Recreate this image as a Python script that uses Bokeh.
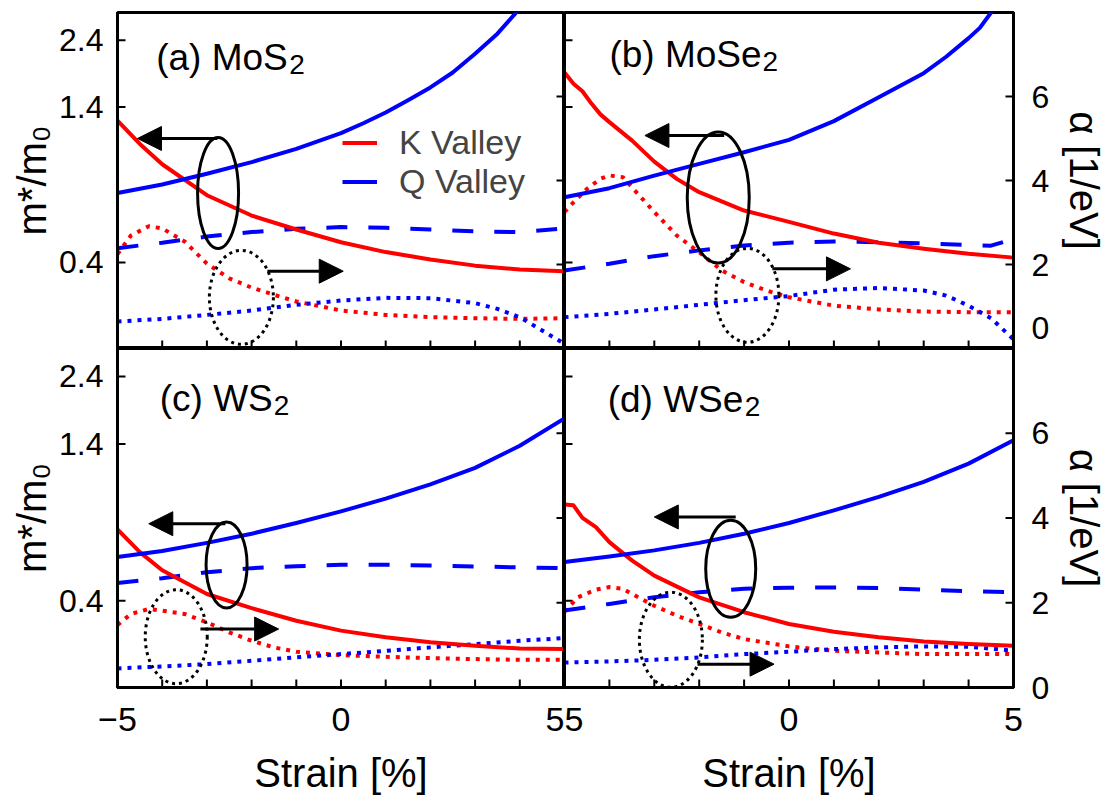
from math import pi
from bokeh.plotting import figure
from bokeh.models import (Range1d, LinearAxis, LinearScale, FixedTicker, PrintfTickFormatter,
                          CustomJSTickFormatter, Arrow, NormalHead, Label, Legend, LegendItem)
from bokeh.layouts import column, row
from bokeh.embed import file_html
from bokeh.resources import INLINE

FONT = "Liberation Sans"
RED = "#ff0000"
BLUE = "#0000ff"

# ---------------- data ----------------
STRAIN = [-5, -4, -3, -2, -1, 0, 1, 2, 3, 4, 5]
X_RANGE = (-5, 5)
MASS_RANGE = (0.2, 3.0)
ALPHA_RANGE = (0, 8)
X_TICKS = [-5, -4, -3, -2, -1, 0, 1, 2, 3, 4, 5]
MASS_TICKS = [0.4, 1.4, 2.4]
ALPHA_TICKS = [0, 2, 4, 6]

# (a) MoS2
mos2_k_mass_strain = [-5, -4.5, -4, -3, -2, -1, 0, 1, 2, 3, 4, 5]
mos2_k_mass = [1.256, 1.04, 0.883, 0.688, 0.584, 0.522, 0.471, 0.435, 0.41, 0.39, 0.378, 0.373]
mos2_q_mass_strain = [-5, -4, -3, -2, -1, 0, 0.5, 1, 1.5, 2, 2.5, 3, 3.5, 4]
mos2_q_mass = [0.70, 0.75, 0.818, 0.898, 1.0, 1.135, 1.229, 1.34, 1.48, 1.64, 1.85, 2.15, 2.53, 3.1]
mos2_q_mass2_strain = STRAIN
mos2_q_mass2 = [0.449, 0.469, 0.493, 0.511, 0.525, 0.532, 0.529, 0.522, 0.514, 0.511, 0.527]
mos2_k_alpha_strain = [-5, -4.7, -4.3, -4, -3.5, -3, -2.5, -2, -1.5, -1, 0, 1, 2, 3, 4, 5]
mos2_k_alpha = [2.25, 2.69, 2.91, 2.86, 2.55, 2.02, 1.67, 1.45, 1.28, 1.12, 0.905, 0.80, 0.746, 0.72, 0.706, 0.72]
mos2_q_alpha_strain = [-5, -4, -3, -2, -1, 0, 1, 2, 3, 3.5, 4, 4.5, 5]
mos2_q_alpha = [0.643, 0.706, 0.80, 0.905, 1.04, 1.143, 1.206, 1.198, 1.08, 0.944, 0.746, 0.43, 0.11]

# (b) MoSe2
mose2_k_mass_strain = [-5, -4.8, -4.6, -4.4, -4.2, -4, -3.5, -3, -2.5, -2, -1, 0, 1, 2, 3, 4, 5]
mose2_k_mass = [1.85, 1.69, 1.59, 1.44, 1.32, 1.24, 1.07, 0.902, 0.785, 0.705, 0.608, 0.555, 0.505,
                0.469, 0.447, 0.429, 0.416]
mose2_q_mass_strain = [-5, -4, -3, -2, -1, 0, 1, 2, 3, 3.5, 4, 4.25, 4.6]
mose2_q_mass = [0.677, 0.728, 0.806, 0.886, 0.973, 1.075, 1.25, 1.515, 1.84, 2.10, 2.44, 2.65, 3.15]
mose2_q_mass2_strain = [-5, -4, -3, -2, -1, 0, 1, 2, 3, 4, 4.5, 5]
mose2_q_mass2 = [0.375, 0.396, 0.421, 0.441, 0.459, 0.469, 0.474, 0.471, 0.467, 0.461, 0.458, 0.484]
mose2_k_alpha_strain = [-5, -4.8, -4.5, -4.2, -4, -3.7, -3.5, -3, -2.5, -2, -1.5, -1, -0.5, 0, 1, 2, 3, 4, 5]
mose2_k_alpha = [3.25, 3.48, 3.80, 4.04, 4.12, 4.08, 3.84, 3.25, 2.69, 2.29, 1.86, 1.58, 1.38, 1.22,
                 1.02, 0.93, 0.88, 0.865, 0.865]
mose2_q_alpha_strain = [-5, -4, -3, -2, -1, 0, 1, 2, 3, 3.5, 4, 4.5, 5]
mose2_q_alpha = [0.746, 0.825, 0.93, 1.04, 1.15, 1.25, 1.40, 1.44, 1.38, 1.26, 1.02, 0.72, 0.22]

# (c) WS2
ws2_k_mass_strain = [-5, -4.5, -4, -3, -2, -1, 0, 1, 2, 3, 4, 5]
ws2_k_mass = [0.707, 0.59, 0.51, 0.422, 0.377, 0.341, 0.315, 0.299, 0.287, 0.279, 0.273, 0.272]
ws2_q_mass_strain = STRAIN
ws2_q_mass = [0.567, 0.595, 0.635, 0.683, 0.744, 0.817, 0.904, 1.014, 1.156, 1.379, 1.716]
ws2_q_mass2_strain = STRAIN
ws2_q_mass2 = [0.461, 0.479, 0.502, 0.519, 0.527, 0.533, 0.533, 0.53, 0.526, 0.522, 0.519]
ws2_k_alpha_strain = [-5, -4.7, -4.3, -4, -3.5, -3, -2.5, -2, -1.5, -1, 0, 1, 2, 3, 4, 5]
ws2_k_alpha = [1.475, 1.735, 1.853, 1.813, 1.735, 1.538, 1.302, 1.103, 0.947, 0.843, 0.765, 0.724,
               0.693, 0.67, 0.653, 0.653]
ws2_q_alpha_strain = STRAIN
ws2_q_alpha = [0.45, 0.497, 0.552, 0.63, 0.71, 0.788, 0.866, 0.947, 1.025, 1.103, 1.167]

# (d) WSe2
wse2_k_mass_strain = [-5, -4.8, -4.6, -4.3, -4, -3.5, -3, -2, -1, 0, 1, 2, 3, 4, 5]
wse2_k_mass = [0.862, 0.857, 0.775, 0.72, 0.639, 0.552, 0.489, 0.411, 0.365, 0.332, 0.312, 0.299,
               0.289, 0.283, 0.279]
wse2_q_mass_strain = STRAIN
wse2_q_mass = [0.545, 0.57, 0.598, 0.635, 0.683, 0.744, 0.823, 0.917, 1.034, 1.196, 1.44]
wse2_q_mass2_strain = STRAIN
wse2_q_mass2 = [0.37, 0.39, 0.411, 0.428, 0.44, 0.444, 0.445, 0.443, 0.437, 0.432, 0.428]
wse2_k_alpha_strain = [-5, -4.7, -4.3, -4, -3.7, -3.5, -3, -2.5, -2, -1.5, -1, 0, 1, 2, 3, 4, 5]
wse2_k_alpha = [1.79, 2.13, 2.31, 2.37, 2.33, 2.21, 1.93, 1.695, 1.50, 1.30, 1.143, 0.97, 0.866,
                0.828, 0.788, 0.788, 0.788]
wse2_q_alpha_strain = STRAIN
wse2_q_alpha = [0.59, 0.615, 0.653, 0.71, 0.788, 0.843, 0.907, 0.947, 0.97, 0.96, 0.87]

TITLES = {"a": ("(a) MoS", "2"), "b": ("(b) MoSe", "2"), "c": ("(c) WS", "2"), "d": ("(d) WSe", "2")}

SERIES = {
    "a": dict(k_mass=(mos2_k_mass_strain, mos2_k_mass), q_mass=(mos2_q_mass_strain, mos2_q_mass),
              q_mass2=(mos2_q_mass2_strain, mos2_q_mass2), k_alpha=(mos2_k_alpha_strain, mos2_k_alpha),
              q_alpha=(mos2_q_alpha_strain, mos2_q_alpha)),
    "b": dict(k_mass=(mose2_k_mass_strain, mose2_k_mass), q_mass=(mose2_q_mass_strain, mose2_q_mass),
              q_mass2=(mose2_q_mass2_strain, mose2_q_mass2), k_alpha=(mose2_k_alpha_strain, mose2_k_alpha),
              q_alpha=(mose2_q_alpha_strain, mose2_q_alpha)),
    "c": dict(k_mass=(ws2_k_mass_strain, ws2_k_mass), q_mass=(ws2_q_mass_strain, ws2_q_mass),
              q_mass2=(ws2_q_mass2_strain, ws2_q_mass2), k_alpha=(ws2_k_alpha_strain, ws2_k_alpha),
              q_alpha=(ws2_q_alpha_strain, ws2_q_alpha)),
    "d": dict(k_mass=(wse2_k_mass_strain, wse2_k_mass), q_mass=(wse2_q_mass_strain, wse2_q_mass),
              q_mass2=(wse2_q_mass2_strain, wse2_q_mass2), k_alpha=(wse2_k_alpha_strain, wse2_k_alpha),
              q_alpha=(wse2_q_alpha_strain, wse2_q_alpha)),
}

# annotation placement (data coords on the m*/m0 axis; ellipse sizes in screen px)
ANNOT = {
    "a": dict(title=(-4.135, 2.09, 133), solid=(-2.75, 0.70, 41, 111), larrow=(-2.765, -4.553, 1.087),
              dotted=(-2.229, 0.302, 64, 94), rarrow=(-1.648, 0.05, 0.373)),
    "b": dict(title=(-4.0, 2.13, 153), solid=(-1.576, 0.675, 62, 131), larrow=(-1.444, -3.209, 1.113),
              dotted=(-0.927, 0.307, 63, 94), rarrow=(-0.371, 1.369, 0.380)),
    "c": dict(title=(-4.055, 2.01, 114), solid=(-2.56, 0.532, 41, 86), larrow=(-2.587, -4.30, 0.740),
              dotted=(-3.686, 0.300, 62, 94), rarrow=(-3.145, -1.395, 0.319)),
    "d": dict(title=(-4.038, 1.99, 137), solid=(-1.298, 0.516, 50, 97), larrow=(-1.187, -3.0, 0.781),
              dotted=(-2.631, 0.293, 63, 95), rarrow=(-2.038, -0.333, 0.241)),
}

# the "0" of the upper right alpha axis sits on the panel seam: its label is lifted a little
ALPHA_ZERO_LABEL_LIFT = 0.5


def style_axis(ax):
    ax.axis_line_width = 3
    ax.axis_line_color = "black"
    ax.major_tick_in = 0
    ax.major_tick_out = 0
    ax.major_tick_line_color = None
    ax.minor_tick_line_color = None
    ax.minor_tick_in = 0
    ax.minor_tick_out = 0
    ax.major_label_text_font = FONT
    ax.major_label_text_color = "black"
    ax.axis_label_text_font = FONT
    ax.axis_label_text_font_style = "normal"
    ax.axis_label_text_color = "black"


def hide_labels(ax):
    ax.formatter = CustomJSTickFormatter(code="return ''")
    ax.major_label_text_font_size = "0px"
    ax.major_label_standoff = 0
    ax.axis_label = None


def make_panel(key, left, top):
    p = figure(x_range=Range1d(*X_RANGE), y_range=Range1d(*MASS_RANGE), y_axis_type="log",
               frame_width=447 if left else 449, frame_height=336 if top else 339,
               output_backend="svg", toolbar_location=None)
    p.min_border = 0
    p.min_border_left = 117 if left else 0
    p.min_border_right = 0 if left else 95
    p.min_border_top = 12 if top else 0
    p.min_border_bottom = 0 if top else 110
    p.background_fill_color = "white"
    p.border_fill_color = "white"
    p.outline_line_color = "black"
    p.outline_line_width = 3
    p.xgrid.visible = False
    p.ygrid.visible = False
    p.extra_y_ranges = {"alpha": Range1d(*ALPHA_RANGE)}
    p.extra_y_scales = {"alpha": LinearScale()}

    # x axis
    xa = p.xaxis[0]
    xa.ticker = FixedTicker(ticks=X_TICKS)
    style_axis(xa)
    if top:
        hide_labels(xa)
    else:
        if left:
            ov = {-5: "\u22125", 0: "0", 5: "5"}
        else:
            ov = {-5: "5", 0: "0", 5: "5"}
        xa.major_label_overrides = {t: ov.get(t, "") for t in X_TICKS}
        xa.major_label_text_font_size = "34px"
        xa.major_label_standoff = 20
        xa.axis_label = "Strain [%]"
        xa.axis_label_text_font_size = "40px"
        xa.axis_label_standoff = 17

    # left (log m*/m0) axis
    ya = p.yaxis[0]
    ya.ticker = FixedTicker(ticks=MASS_TICKS)
    style_axis(ya)
    if left:
        ya.formatter = PrintfTickFormatter(format="%.1f")
        ya.major_label_text_font_size = "32px"
        ya.major_label_standoff = 14
        ya.axis_label = "m*/m\u2080"
        ya.axis_label_text_font_size = "40px"
        ya.axis_label_standoff = 2
    else:
        hide_labels(ya)

    # right (alpha) axis
    if left:
        ra = LinearAxis(y_range_name="alpha", ticker=FixedTicker(ticks=ALPHA_TICKS))
        style_axis(ra)
        hide_labels(ra)
    else:
        label_ticks = list(ALPHA_TICKS)
        if top:
            label_ticks[0] = ALPHA_TICKS[0] + ALPHA_ZERO_LABEL_LIFT
        ra = LinearAxis(y_range_name="alpha", ticker=FixedTicker(ticks=label_ticks))
        style_axis(ra)
        ra.major_label_overrides = {lt: str(t) for lt, t in zip(label_ticks, ALPHA_TICKS)}
        ra.major_label_text_font_size = "32px"
        ra.major_label_standoff = 18
        ra.axis_label = "\u03b1 [1/eV]"
        ra.axis_label_text_font_size = "40px"
        ra.axis_label_standoff = 10
    p.add_layout(ra, "right")

    # inward tick marks (half of each dash is clipped away by the frame)
    tick = dict(marker="dash", size=16, line_color="black", line_width=2)
    p.scatter(x=[X_RANGE[0]] * len(MASS_TICKS), y=MASS_TICKS, **tick)
    p.scatter(x=[X_RANGE[1]] * len(ALPHA_TICKS), y=ALPHA_TICKS, y_range_name="alpha", **tick)
    p.scatter(x=X_TICKS, y=[MASS_RANGE[0]] * len(X_TICKS), angle=pi / 2, **tick)

    s = SERIES[key]
    p.line(s["k_alpha"][0], s["k_alpha"][1], y_range_name="alpha", line_color=RED,
           line_width=4, line_dash="4 6")
    p.line(s["q_alpha"][0], s["q_alpha"][1], y_range_name="alpha", line_color=BLUE,
           line_width=4, line_dash="4 6")
    p.line(s["q_mass2"][0], s["q_mass2"][1], line_color=BLUE, line_width=4, line_dash="21 21")
    rk = p.line(s["k_mass"][0], s["k_mass"][1], line_color=RED, line_width=4, line_join="round")
    rq = p.line(s["q_mass"][0], s["q_mass"][1], line_color=BLUE, line_width=4, line_join="round")

    a = ANNOT[key]
    ex, ey, ew, eh = a["solid"]
    p.ellipse(x=[ex], y=[ey], width=[ew], height=[eh], width_units="screen", height_units="screen",
              fill_color=None, line_color="black", line_width=3)
    ex, ey, ew, eh = a["dotted"]
    p.ellipse(x=[ex], y=[ey], width=[ew], height=[eh], width_units="screen", height_units="screen",
              fill_color=None, line_color="black", line_width=3, line_dash="3 4")
    for name in ("larrow", "rarrow"):
        xs, xe, yy = a[name]
        p.add_layout(Arrow(end=NormalHead(size=24, fill_color="black", line_color="black", line_width=1),
                           x_start=xs, y_start=yy, x_end=xe, y_end=yy,
                           line_color="black", line_width=3))

    tx, ty, toff = a["title"]
    main, sub = TITLES[key]
    p.add_layout(Label(x=tx, y=ty, text=main, text_font=FONT, text_font_size="37px",
                       text_color="black", text_baseline="alphabetic", text_align="left"))
    p.add_layout(Label(x=tx, y=ty, text=sub, text_font=FONT, text_font_size="28px",
                       text_color="black", text_baseline="alphabetic", text_align="left",
                       x_offset=toff, y_offset=-7))

    if key == "a":
        legend = Legend(items=[LegendItem(label="K Valley", renderers=[rk]),
                               LegendItem(label="Q Valley", renderers=[rq])],
                        location=(225, 147), padding=0, margin=0, spacing=0,
                        glyph_width=35, glyph_height=37, label_height=37, label_standoff=22,
                        label_text_font=FONT, label_text_font_size="34px",
                        border_line_color=None, background_fill_alpha=0)
        p.add_layout(legend)
    return p


pa = make_panel("a", True, True)
pb = make_panel("b", False, True)
pc = make_panel("c", True, False)
pd = make_panel("d", False, False)

layout = column(row(pa, pb, spacing=0), row(pc, pd, spacing=0), spacing=0)

open("out.html", "w").write(file_html(layout, INLINE))
